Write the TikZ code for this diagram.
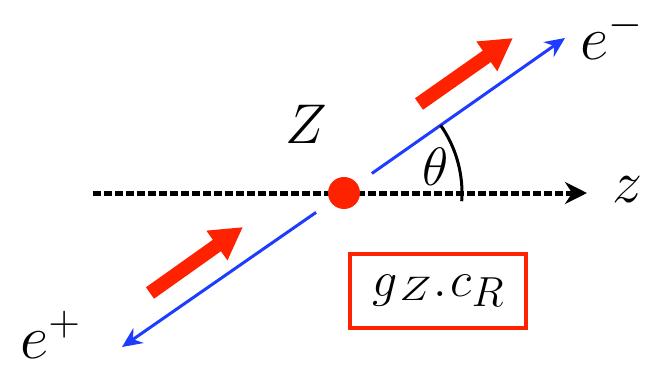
\documentclass[tikz,border=0pt]{standalone}
\usepackage{fix-cm}
\usetikzlibrary{arrows.meta}
\definecolor{beamblue}{HTML}{1E3CFF}
\definecolor{spinred}{HTML}{FF2200}
\newcommand{\fs}[1]{\fontsize{#1}{#1}\selectfont}

\begin{document}
\begin{tikzpicture}[x=0.5pt, y=-0.5pt,
  beam/.style={draw=beamblue, line width=1.5pt, -{Stealth[length=10pt, width=9pt]}, shorten <=17pt},
  boost/.style={draw=spinred, line width=7pt, -{Triangle[length=16pt, width=17pt]}},
  axis/.style={draw=black, line width=2.5pt, dash pattern=on 4pt off 1.5pt, -{Stealth[length=11pt, width=11pt]}},
  lbl/.style={inner sep=0pt, anchor=base west, font=\fs{31}},
  vtx/.style={circle, fill=spinred, minimum size=16pt, inner sep=0pt},
  coup/.style={draw=spinred, line width=2pt, minimum width=88pt, minimum height=37pt,
               inner sep=0pt, font=\fs{25}}]
  \useasboundingbox (0,0) rectangle (650,370);
  % z axis and vertex
  \coordinate (zstart) at (93,193);
  \coordinate (ztip) at (587,193);
  \draw[axis] (zstart) -- (ztip);
  \node[vtx] (dot) at (344,193) {};
  % outgoing leptons
  \coordinate (etip) at (565,38);
  \coordinate (ptip) at (122,347);
  \draw[beam] (dot.center) -- (etip);
  \draw[beam] (dot.center) -- (ptip);
  % spin arrows
  \coordinate (up0) at (419,104); \coordinate (up1) at (513,38);
  \coordinate (lo0) at (150,293); \coordinate (lo1) at (243,227);
  \draw[boost] (up0) -- (up1);
  \draw[boost] (lo0) -- (lo1);
  % angle
  \draw[line width=1.5pt] (dot.center) ++(4:118) arc[start angle=4, end angle=-35, radius=118];
  % labels
  \node[lbl, font=\fs{28}] (zlab) at (285,143) {$Z$};
  \node[lbl, font=\fs{27}] (th) at (422,185) {$\theta$};
  \node[lbl] (em) at (580,59) {$e^-$};
  \node[lbl] (ep) at (20,358) {$e^+$};
  \node[lbl, font=\fs{30}] (zax) at (612,202) {$z$};
  \node[coup] (cpl) at (438,291) {$g$\hspace{1pt}\raisebox{-2pt}{\scalebox{1.25}[1]{\fs{17}$Z$}}\hspace{1pt}$.$\hspace{2pt}$c$\raisebox{-5pt}{\fs{21}$R$}};
\end{tikzpicture}
\end{document}
